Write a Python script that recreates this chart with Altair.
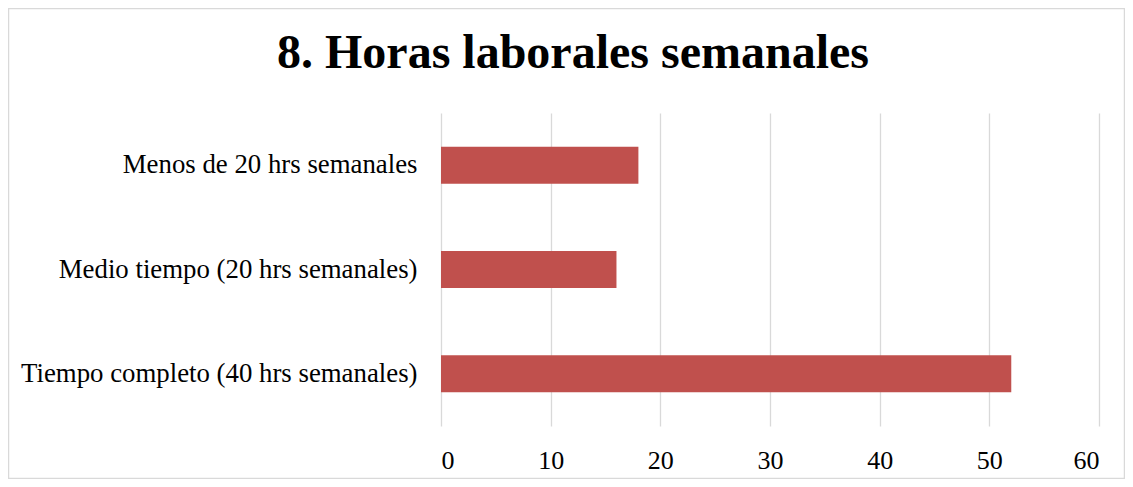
import altair as alt
import pandas as pd

categories = ["Menos de 20 hrs semanales", "Medio tiempo (20 hrs semanales)", "Tiempo completo (40 hrs semanales)"]
values = [18, 16, 52]
x_ticks = [0, 10, 20, 30, 40, 50, 60]

df = pd.DataFrame({"cat": categories, "val": values})

W, H = 658, 313
PL, PT, PR, PB = 433, 105, 26, 53

bars = alt.Chart(df).mark_bar(color="#c0504d").encode(
    x=alt.X("val:Q", scale=alt.Scale(domain=[0, 60], nice=False),
            axis=alt.Axis(values=x_ticks, title=None, grid=True, gridColor="#d9d9d9",
                          gridWidth=1.3, domain=False, ticks=False, labelFont="Liberation Serif",
                          labelFontSize=26, labelColor="#000000", labelPadding=21)),
    y=alt.Y("cat:N", sort=categories,
            scale=alt.Scale(paddingInner=0.645, paddingOuter=0.3225),
            axis=alt.Axis(title=None, domain=False, ticks=False, grid=False,
                          labelFont="Liberation Serif", labelFontSize=26.8,
                          labelColor="#000000", labelPadding=24, labelLimit=600)),
)

frame = alt.Chart(alt.Data(values=[{"a": 1}])).mark_rect(
    fill=None, stroke="#d9d9d9", strokeWidth=1.5
).encode(
    x=alt.value(-PL + 0.5), x2=alt.value(W + PR - 0.5),
    y=alt.value(-PT + 0.5), y2=alt.value(H + PB - 0.5),
)

chart = alt.layer(frame, bars).properties(
    width=W, height=H,
    autosize=alt.AutoSizeParams(type="none"),
    padding={"left": PL, "top": PT, "right": PR, "bottom": PB},
    title=alt.TitleParams("8. Horas laborales semanales", font="Liberation Serif",
                          fontSize=48, fontWeight="bold", color="#000000",
                          anchor="middle", dx=-197, offset=0, dy=70),
).configure_view(stroke=None)

chart.save("out.html", embed_options={"renderer": "svg", "actions": False})
